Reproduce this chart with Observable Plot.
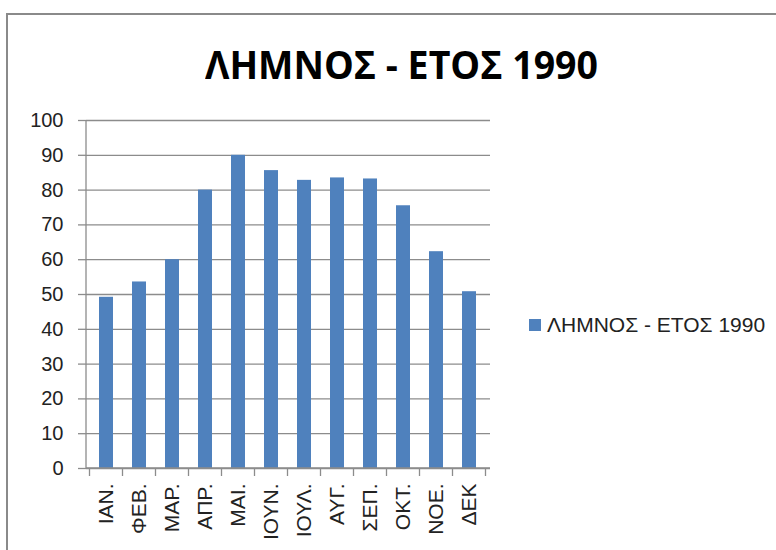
<!DOCTYPE html>
<html>
<head>
<meta charset="utf-8">
<script src="https://cdn.jsdelivr.net/npm/d3@7"></script>
<script src="https://cdn.jsdelivr.net/npm/@observablehq/plot@0.6"></script>
<style>
  html, body { margin: 0; padding: 0; background: #fff; }
  #page { position: relative; width: 776px; height: 550px; overflow: hidden; font-family: "Liberation Sans", Arial, sans-serif; }
  #frame { position: absolute; left: 6px; top: 13px; width: 800px; height: 600px; border-left: 2px solid #8a8a8a; border-top: 2px solid #8a8a8a; }
  #title { position: absolute; left: 205px; top: 36px; white-space: nowrap;
           font-family: "Open Sans", "Noto Sans", sans-serif; font-weight: 700; font-size: 40px; color: #000; transform-origin: 0 0; }
  #chart { position: absolute; left: 0; top: 100px; }
  #legend { position: absolute; left: 529px; top: 313px; display: flex; align-items: center; white-space: nowrap;
            font-family: "Liberation Sans", Arial, sans-serif; font-size: 21px; color: #222; }
  #legend .sw { width: 12px; height: 12px; background: #4f81bd; margin-right: 6px; }
</style>
</head>
<body>
<div id="page">
  <div id="frame"></div>
  <div id="title"></div>
  <div id="chart"></div>
  <div id="legend"><span class="sw"></span><span id="legendText"></span></div>
</div>
<script>
// Monthly values for Lemnos, 1990
const seriesName = "ΛΗΜΝΟΣ - ΕΤΟΣ 1990";
const months = ["ΙΑΝ.", "ΦΕΒ.", "ΜΑΡ.", "ΑΠΡ.", "ΜΑΙ.", "ΙΟΥΝ.", "ΙΟΥΛ.", "ΑΥΓ.", "ΣΕΠ.", "ΟΚΤ.", "ΝΟΕ.", "ΔΕΚ"];
const values = [49.2, 53.6, 60.0, 80.0, 90.0, 85.6, 82.8, 83.5, 83.2, 75.5, 62.3, 50.8];
const yTicks = [0, 10, 20, 30, 40, 50, 60, 70, 80, 90, 100];

const data = months.map((m, i) => ({month: m, value: values[i]}));

const barColor = "#4f81bd";
const lineColor = "#8c8c8c";

// Axis lines and category separators drawn from the plot's own scales
function axisLines(index, scales, values, dims) {
  const x = scales.x, y = scales.y;
  const step = x.step();
  const bw = x.bandwidth();
  const g = d3.create("svg:g").attr("stroke", lineColor).attr("stroke-width", 1.3).attr("fill", "none");
  const x0 = dims.marginLeft;
  const x1 = dims.width - dims.marginRight;
  g.append("line").attr("x1", x0).attr("x2", x0).attr("y1", y(100)).attr("y2", y(0));
  g.append("line").attr("x1", x0).attr("x2", x1).attr("y1", y(0)).attr("y2", y(0));
  const bounds = months.map(m => x(m) + bw / 2 - step / 2);
  bounds.push(x(months[months.length - 1]) + bw / 2 + step / 2);
  for (const b of bounds) {
    g.append("line").attr("x1", b).attr("x2", b).attr("y1", y(0)).attr("y2", y(0) + 8);
  }
  return g.node();
}

const chart = Plot.plot({
  width: 520,
  height: 450,
  marginLeft: 86,
  marginRight: 30,
  marginTop: 20,
  marginBottom: 82,
  style: {fontFamily: "Liberation Sans, Arial, sans-serif", fontSize: "20px", color: "#222", background: "transparent"},
  x: {domain: months, paddingInner: 0.57, paddingOuter: 0.285, label: null},
  y: {domain: [0, 100], label: null},
  marks: [
    Plot.gridY(yTicks, {stroke: lineColor, strokeOpacity: 1, strokeWidth: 1.3}),
    Plot.axisY(yTicks, {tickSize: 8, tickPadding: 15, stroke: lineColor, strokeWidth: 1.3, fontSize: 20, fill: "#222"}),
    Plot.axisX({tickSize: 0, tickPadding: 15, tickRotate: -90, fontSize: 21, fill: "#222", textAnchor: "end"}),
    Plot.barY(data, {x: "month", y: "value", fill: barColor}),
    axisLines
  ]
});
document.getElementById("chart").appendChild(chart);

document.getElementById("legendText").textContent = seriesName;
const title = document.getElementById("title");
title.textContent = seriesName;
// Fit the title to its span across the chart area
const target = 393;
const tw = title.getBoundingClientRect().width;
title.style.transform = `scaleX(${target / tw})`;
</script>
</body>
</html>
